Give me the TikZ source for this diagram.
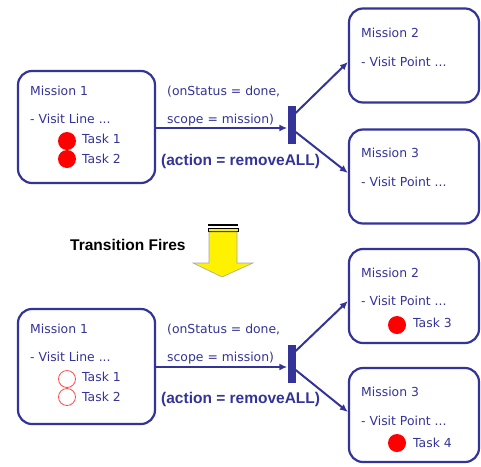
\documentclass[tikz,border=0pt]{standalone}
\usepackage{fontspec}
\setmainfont{DejaVu Sans}
\newfontfamily\arialfont{Liberation Sans}
\usetikzlibrary{arrows.meta}
\definecolor{mblue}{RGB}{51,51,153}

\begin{document}
\begin{tikzpicture}[x=1pt,y=-1pt]
  \tikzstyle{mission}=[draw=mblue, line width=2.2pt, rounded corners=14pt, inner sep=0pt, minimum width=130pt, minimum height=94pt]
  \tikzstyle{txt}=[anchor=base west, inner sep=0pt, text=mblue, font=\fontsize{12.4}{14}\selectfont]
  \tikzstyle{cond}=[anchor=base west, inner sep=0pt, text=mblue, font=\arialfont\bfseries\fontsize{15.5}{17}\selectfont]
  \tikzstyle{firebar}=[fill=mblue, inner sep=0pt, minimum width=8pt, minimum height=38pt]
  \tikzstyle{tokenfull}=[circle, fill=red, inner sep=0pt, minimum size=18pt]
  \tikzstyle{tokengone}=[circle, draw=red!70, line width=0.8pt, fill=white, inner sep=0pt, minimum size=17pt]
  \tikzstyle{flow}=[mblue, line width=2pt, -{Latex[length=8pt,width=7pt]}]
  \useasboundingbox (0,0) rectangle (481,466);

  % before the transition fires
  \node[mission, minimum width=137pt, minimum height=112pt] (m1) at (86.5,127) {};
  \node[txt] (m1name) at (30,95) {Mission 1};
  \node[txt] (m1line) at (30,123) {- Visit Line ...};
  \node[tokenfull] (t1) at (67,141) {};
  \node[tokenfull] (t2) at (67,159) {};
  \node[txt] (t1name) at (82,143) {Task 1};
  \node[txt] (t2name) at (82,163) {Task 2};

  \node[txt] (on1) at (167,95) {(onStatus = done,};
  \node[txt] (sc1) at (167,123) {scope = mission)};
  \node[cond] (ac1) at (161,165) {(action = removeALL)};
  \node[firebar] (bar1) at (291.5,125) {};

  \node[mission] (m2) at (414,55.5) {};
  \node[txt] (m2name) at (361,37) {Mission 2};
  \node[txt] (m2line) at (361,66) {- Visit Point ...};
  \node[mission] (m3) at (414,176.5) {};
  \node[txt] (m3name) at (361,157) {Mission 3};
  \node[txt] (m3line) at (361,186) {- Visit Point ...};

  \draw[flow] (m1.east |- 0,128) -- (bar1.west |- 0,128);
  \draw[flow] ([yshift=12pt]bar1.east) -- ([yshift=-6.5pt]m2.west);
  \draw[flow] ([yshift=-7pt]bar1.east) -- ([yshift=3.5pt]m3.west);

  % the transition fires
  \node[anchor=base west, inner sep=0pt, font=\arialfont\bfseries\fontsize{15.5}{17}\selectfont] (fires) at (70,250) {Transition Fires};
  \draw[black, line width=1.5pt] (208,225) -- (238,225);
  \draw[black, line width=0.6pt, fill=yellow] (208,228) rectangle (238,231.5);
  \draw[gray!70, line width=0.6pt, fill=yellow] (209,232) -- (237,232) -- (237,263) -- (253,263)
    -- (222,277) -- (193,263) -- (209,263) -- cycle;

  % after the transition fires
  \node[mission, minimum width=137pt, minimum height=115pt] (n1) at (86.5,366.5) {};
  \node[txt] (n1name) at (30,333) {Mission 1};
  \node[txt] (n1line) at (30,361) {- Visit Line ...};
  \node[tokengone] (u1) at (67,379) {};
  \node[tokengone] (u2) at (67,397) {};
  \node[txt] (u1name) at (82,381) {Task 1};
  \node[txt] (u2name) at (82,401) {Task 2};

  \node[txt] (on2) at (167,333) {(onStatus = done,};
  \node[txt] (sc2) at (167,361) {scope = mission)};
  \node[cond] (ac2) at (161,403) {(action = removeALL)};
  \node[firebar] (bar2) at (291.5,364) {};

  \node[mission] (n2) at (414,296) {};
  \node[txt] (n2name) at (361,277) {Mission 2};
  \node[txt] (n2line) at (361,305) {- Visit Point ...};
  \node[tokenfull] (t3) at (397,325) {};
  \node[txt] (t3name) at (413,327) {Task 3};
  \node[mission] (n3) at (414,415) {};
  \node[txt] (n3name) at (361,396) {Mission 3};
  \node[txt] (n3line) at (361,425) {- Visit Point ...};
  \node[tokenfull] (t4) at (397,443) {};
  \node[txt] (t4name) at (413,447) {Task 4};

  \draw[flow] (n1.east |- 0,367) -- (bar2.west |- 0,367);
  \draw[flow] ([yshift=13pt]bar2.east) -- ([yshift=-5pt]n2.west);
  \draw[flow] ([yshift=-6pt]bar2.east) -- ([yshift=3pt]n3.west);
\end{tikzpicture}
\end{document}
